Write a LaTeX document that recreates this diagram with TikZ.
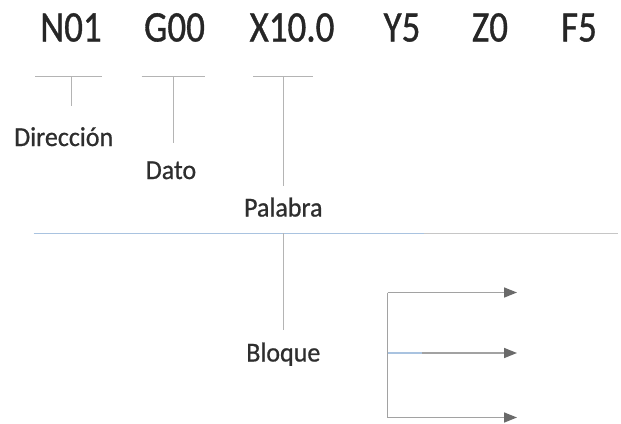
\documentclass[tikz,border=0pt]{standalone}
\usepackage{fontspec}
\setmainfont{Carlito}
\newfontfamily\wordfont{Carlito}[FakeBold=0.9]
\newfontfamily\labelfont{Carlito}[FakeBold=0.7]
\usetikzlibrary{arrows.meta}
\definecolor{txt}{HTML}{262626}
\definecolor{lbl}{HTML}{2E2E2E}
\definecolor{bar}{HTML}{B4B4B4}
\definecolor{rule}{HTML}{C6C6C6}
\definecolor{ruleblue}{HTML}{A9C3E0}
\definecolor{brk}{HTML}{A2A2A2}
\definecolor{tip}{HTML}{6A6A6A}
% tall program words and slightly tall labels
\newcommand{\tallword}[1]{\scalebox{1}[1.18]{#1}}
\newcommand{\tallabel}[1]{\scalebox{1}[1.05]{#1}}
\tikzset{
  word/.style={anchor=base, inner sep=0pt, text=txt, font=\wordfont\fontsize{37}{40}\selectfont},
  label/.style={anchor=base, inner sep=0pt, text=lbl, font=\labelfont\fontsize{26}{28}\selectfont},
  barline/.style={draw=bar, line width=1.4pt},
  mainrule/.style={draw=rule, line width=1.6pt},
  bracket/.style={draw=brk, line width=1.5pt},
  outarrow/.style={bracket, -{Triangle[length=13pt,width=10pt,color=tip]}}
}
\begin{document}
\begin{tikzpicture}[x=1pt, y=-1pt]
  \useasboundingbox (0,0) rectangle (621,423);
  \fill[white] (0,0) rectangle (621,423);

  % program words
  \node[word] (n01) at (71,41.5) {\tallword{N01}};
  \node[word] (g00) at (174.5,41.5) {\tallword{G00}};
  \node[word] (x10) at (292,41.5) {\tallword{X10.0}};
  \node[word] (y5)  at (402,41.5) {\tallword{Y5}};
  \node[word] (z0)  at (490,41.5) {\tallword{Z0}};
  \node[word] (f5)  at (579,41.5) {\tallword{F5}};

  % labels
  \node[label] (dir) at (63.7,146) {\tallabel{Dirección}};
  \node[label] (dato) at (171,179) {\tallabel{Dato}};
  \node[label] (pal) at (283.3,216.5) {\tallabel{Palabra}};
  \node[label] (blq) at (283.3,361.5) {\tallabel{Bloque}};

  % bars under the words, each with its stem
  \coordinate (nL) at (35,76.7);   \coordinate (nR) at (101.7,76.7);
  \coordinate (gL) at (141.7,76.7); \coordinate (gR) at (205,76.7);
  \coordinate (xL) at (253.3,76.7); \coordinate (xR) at (313.3,76.7);
  \coordinate (nT) at (71.7,76.7);  \coordinate (nB) at (71.7,106);
  \coordinate (gT) at (173.3,76.7); \coordinate (gB) at (173.3,143);
  \coordinate (xT) at (283.3,76.7); \coordinate (xB) at (283.3,186);
  \draw[barline] (nL) -- (nR);
  \draw[barline] (gL) -- (gR);
  \draw[barline] (xL) -- (xR);
  \draw[barline] (nT) -- (nB);
  \draw[barline] (gT) -- (gB);
  \draw[barline] (xT) -- (xB);

  % long rule and block stem
  \coordinate (rL) at (33.5,233.3);
  \coordinate (rM) at (424,233.3);
  \coordinate (rR) at (618,233.3);
  \coordinate (sT) at (283.3,233.3);
  \coordinate (sB) at (283.3,330);
  \draw[mainrule, draw=ruleblue] (rL) -- (rM);
  \draw[mainrule] (rM) -- (rR);
  \draw[barline] (sT) -- (sB);

  % bracket with three outgoing arrows
  \coordinate (b1) at (387.5,292.5);
  \coordinate (b2) at (387.5,353);
  \coordinate (b3) at (387.5,417.5);
  \coordinate (a1) at (517,292.5);
  \coordinate (a2) at (517,353);
  \coordinate (a3) at (517,417.5);
  \coordinate (bm) at (422,353);
  \draw[bracket] (b1) -- (b3);
  \draw[outarrow] (b1) -- (a1);
  \draw[outarrow] (b2) -- (a2);
  \draw[outarrow] (b3) -- (a3);
  \draw[bracket, draw=ruleblue] (b2) -- (bm);
\end{tikzpicture}
\end{document}
